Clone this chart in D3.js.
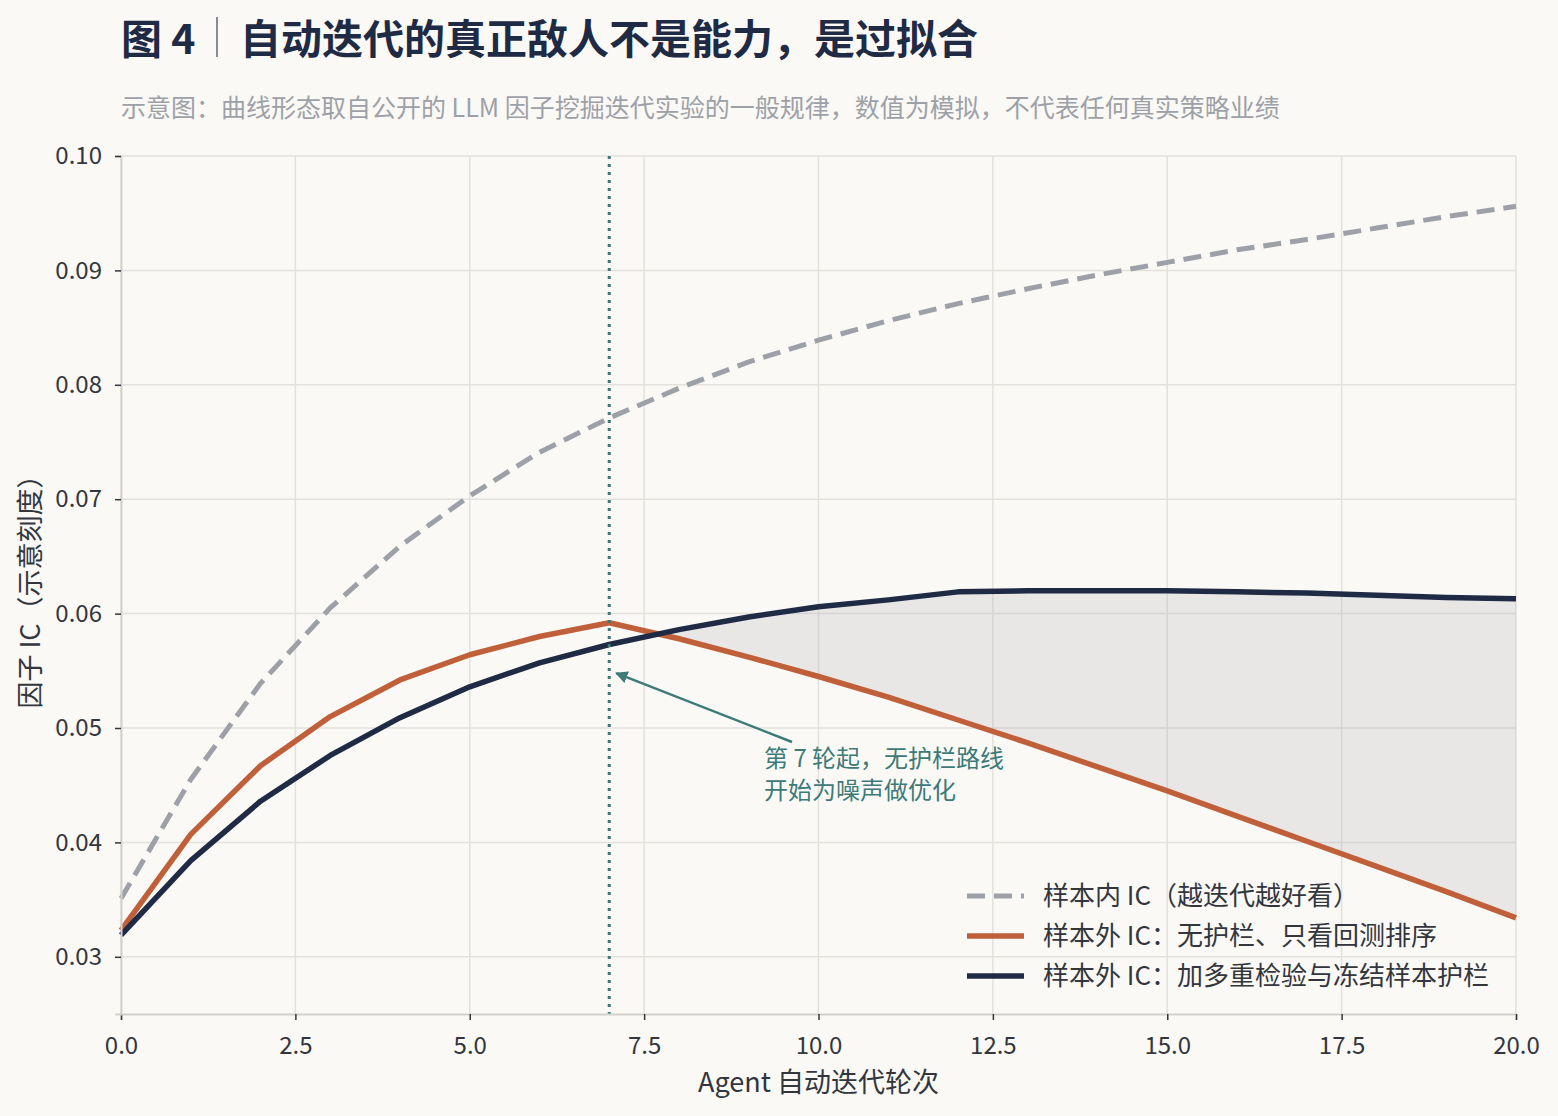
<!DOCTYPE html>
<html>
<head>
<meta charset="utf-8">
<script src="https://cdn.jsdelivr.net/npm/d3@7"></script>
<style>
  body { margin: 0; background: #faf9f6; }
  svg { display: block; font-family: "Noto Sans CJK SC", "Noto Sans", sans-serif; }
</style>
</head>
<body>
<svg id="chart" width="1558" height="1116"></svg>
<script>
// rounds 0..20
const rounds = [...Array(21).keys()]
const inSample = [0.0351, 0.0455, 0.0539, 0.0605, 0.0659, 0.0703, 0.0741, 0.0771, 0.0797, 0.0820, 0.0839,
                  0.0856, 0.0871, 0.0884, 0.0896, 0.0907, 0.0918, 0.0927, 0.0937, 0.0947, 0.0956]
const noGuard = [0.0323, 0.0407, 0.0467, 0.0510, 0.0542, 0.0564, 0.0580, 0.0592, 0.0578, 0.0562, 0.0545,
                 0.0527, 0.0507, 0.0487, 0.0466, 0.0445, 0.0423, 0.0401, 0.0379, 0.0357, 0.0334]
const guarded = [0.0319, 0.0384, 0.0436, 0.0476, 0.0509, 0.0536, 0.0557, 0.0573, 0.0586, 0.0597, 0.0606,
                 0.0612, 0.0619, 0.0620, 0.0620, 0.0620, 0.0619, 0.0618, 0.0616, 0.0614, 0.0613]
const xTicks = [0, 2.5, 5, 7.5, 10, 12.5, 15, 17.5, 20]
const yTicks = [0.03, 0.04, 0.05, 0.06, 0.07, 0.08, 0.09, 0.10]
const legendLabels = ["样本内 IC（越迭代越好看）", "样本外 IC：无护栏、只看回测排序", "样本外 IC：加多重检验与冻结样本护栏"]

const colors = { gray: "#9da1a7", orange: "#c0603a", navy: "#1f2a44", teal: "#3d7a78", grid: "#e3e1dc", text: "#33363d" }

const svg = d3.select("#chart")
const x = d3.scaleLinear().domain([0, 20]).range([121, 1516])
const y = d3.scaleLinear().domain([0.025, 0.10]).range([1014, 156])

svg.append("rect").attr("width", 1558).attr("height", 1116).attr("fill", "#faf9f6")

// grid
svg.append("g").selectAll("line").data(xTicks).enter().append("line")
  .attr("x1", d => x(d)).attr("x2", d => x(d)).attr("y1", y(0.10)).attr("y2", y(0.025))
  .attr("stroke", colors.grid).attr("stroke-width", 1.5)
svg.append("g").selectAll("line").data(yTicks).enter().append("line")
  .attr("x1", x(0)).attr("x2", x(20)).attr("y1", d => y(d)).attr("y2", d => y(d))
  .attr("stroke", colors.grid).attr("stroke-width", 1.5)

// shaded gap where guarded > noGuard
let gapPts = []
for (let i = 0; i < rounds.length - 1; i++) {
  const d0 = guarded[i] - noGuard[i], d1 = guarded[i + 1] - noGuard[i + 1]
  if (d0 <= 0 && d1 > 0) {
    const t = d0 / (d0 - d1)
    const yc = noGuard[i] + t * (noGuard[i + 1] - noGuard[i])
    gapPts.push({ r: rounds[i] + t, a: yc, b: yc })
  }
  if (d1 > 0) gapPts.push({ r: rounds[i + 1], a: guarded[i + 1], b: noGuard[i + 1] })
}
svg.append("path").datum(gapPts)
  .attr("d", d3.area().x(d => x(d.r)).y0(d => y(d.b)).y1(d => y(d.a)))
  .attr("fill", "#9ea2a8").attr("fill-opacity", 0.2)

// lines
const line = d3.line().x((d, i) => x(rounds[i])).y(d => y(d))
svg.append("path").datum(inSample).attr("d", line).attr("fill", "none")
  .attr("stroke", colors.gray).attr("stroke-width", 5).attr("stroke-dasharray", "18,9")
svg.append("path").datum(noGuard).attr("d", line).attr("fill", "none")
  .attr("stroke", colors.orange).attr("stroke-width", 5.5).attr("stroke-linejoin", "round")
svg.append("path").datum(guarded).attr("d", line).attr("fill", "none")
  .attr("stroke", colors.navy).attr("stroke-width", 5.5).attr("stroke-linejoin", "round")

// vertical marker at round 7
svg.append("line").attr("x1", x(7)).attr("x2", x(7)).attr("y1", y(0.10)).attr("y2", y(0.025))
  .attr("stroke", colors.teal).attr("stroke-width", 3).attr("stroke-dasharray", "3,5")

// axes
const xAxis = svg.append("g").attr("transform", `translate(0,${y(0.025)})`)
  .call(d3.axisBottom(x).tickValues(xTicks).tickSize(6).tickPadding(17).tickFormat(d3.format(".1f")))
const yAxis = svg.append("g").attr("transform", `translate(${x(0)},0)`)
  .call(d3.axisLeft(y).tickValues(yTicks).tickSize(6).tickPadding(13).tickFormat(d3.format(".2f")))
;[xAxis, yAxis].forEach(g => {
  g.select(".domain").attr("stroke", "#d3d1cb").attr("stroke-width", 2)
  g.selectAll(".tick line").attr("stroke", colors.text).attr("stroke-width", 1.5)
  g.selectAll(".tick text").attr("fill", colors.text).style("font-size", "24px")
    .style("font-family", "'Noto Sans CJK SC', sans-serif")
})

svg.append("text").attr("x", (x(0) + x(20)) / 2).attr("y", 1092).attr("text-anchor", "middle")
  .attr("fill", colors.text).style("font-size", "27px").text("Agent 自动迭代轮次")
svg.append("text").attr("transform", `translate(40,${(y(0.10) + y(0.025)) / 2}) rotate(-90)`)
  .attr("text-anchor", "middle").attr("fill", colors.text).style("font-size", "27px").text("因子 IC（示意刻度）")

// annotation
const defs = svg.append("defs")
defs.append("marker").attr("id", "arrow").attr("viewBox", "0 0 10 10").attr("refX", 9).attr("refY", 5)
  .attr("markerWidth", 5).attr("markerHeight", 5).attr("orient", "auto-start-reverse")
  .append("path").attr("d", "M0,0 L10,5 L0,10 z").attr("fill", colors.teal)
svg.append("line").attr("x1", 792).attr("y1", 742).attr("x2", x(7.1)).attr("y2", y(0.0548))
  .attr("stroke", colors.teal).attr("stroke-width", 2.5).attr("marker-end", "url(#arrow)")
svg.append("text").attr("x", 764).attr("y", 767).attr("fill", colors.teal).style("font-size", "24px")
  .text("第 7 轮起，无护栏路线")
svg.append("text").attr("x", 764).attr("y", 799).attr("fill", colors.teal).style("font-size", "24px")
  .text("开始为噪声做优化")

// legend
const legend = svg.append("g").attr("transform", "translate(967,896)")
const styles = [
  { c: colors.gray, dash: "18,9", w: 5 },
  { c: colors.orange, dash: null, w: 5.5 },
  { c: colors.navy, dash: null, w: 5.5 }
]
legendLabels.forEach((lab, i) => {
  const g = legend.append("g").attr("transform", `translate(0,${i * 40})`)
  g.append("line").attr("x1", 0).attr("x2", 57).attr("y1", 0).attr("y2", 0)
    .attr("stroke", styles[i].c).attr("stroke-width", styles[i].w).attr("stroke-dasharray", styles[i].dash)
  g.append("text").attr("x", 76).attr("y", 9).attr("fill", colors.text).style("font-size", "26px").text(lab)
})

// title and subtitle
svg.append("text").attr("x", 121).attr("y", 54).attr("fill", colors.navy)
  .style("font-size", "41px").style("font-weight", 700).text("图 4")
svg.append("line").attr("x1", 217).attr("x2", 217).attr("y1", 17).attr("y2", 57)
  .attr("stroke", colors.navy).attr("stroke-width", 1.5).attr("stroke-opacity", 0.7)
svg.append("text").attr("x", 240).attr("y", 54).attr("fill", colors.navy)
  .style("font-size", "41px").style("font-weight", 700).text("自动迭代的真正敌人不是能力，是过拟合")
svg.append("text").attr("x", 121).attr("y", 117).attr("fill", "#9da1a7").style("font-size", "25px")
  .text("示意图：曲线形态取自公开的 LLM 因子挖掘迭代实验的一般规律，数值为模拟，不代表任何真实策略业绩")
</script>
</body>
</html>
